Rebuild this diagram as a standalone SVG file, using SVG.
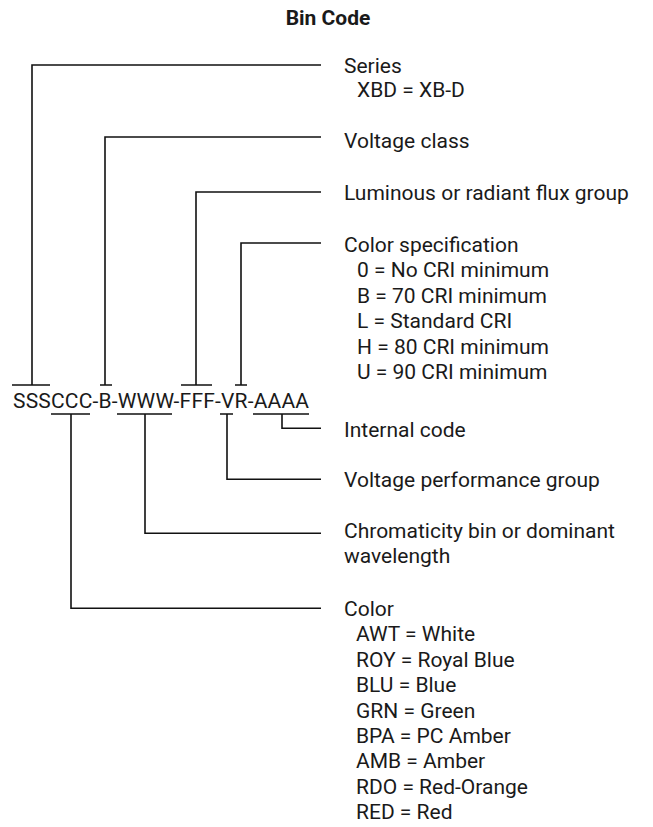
<svg xmlns="http://www.w3.org/2000/svg" width="653" height="827" viewBox="0 0 653 827">
<style>
.t{font-family:Roboto,"Liberation Sans",sans-serif;font-size:21px;fill:#1a1a1a}
.b{font-weight:bold}
.c{fill:none;stroke:#111;stroke-width:1.6}
</style>
<rect width="653" height="827" fill="#fff"/>
<text class="t b" x="328" y="25" text-anchor="middle">Bin Code</text>
<text class="t" x="13" y="407.7" textLength="296" lengthAdjust="spacing">SSSCCC-B-WWW-FFF-VR-AAAA</text>
<g id="connectors">
<path class="c" d="M12,385H50M32,385V65H321"/>
<path class="c" d="M100,385H112M105,385V137H321"/>
<path class="c" d="M181,385H212M196,385V192H321"/>
<path class="c" d="M235,385H247M241,385V243H321"/>
<path class="c" d="M253,414H309M282,414V428.3H321"/>
<path class="c" d="M220,414H233M227,414V479.3H321"/>
<path class="c" d="M117,414H172M145,414V533.3H321"/>
<path class="c" d="M51,414H90M71,414V608.3H321"/>
</g>
<g id="series"><text class="t" x="344" y="72.7">Series</text><text class="t" x="357" y="96.7">XBD = XB-D</text></g>
<g id="voltage-class"><text class="t" x="344" y="148">Voltage class</text></g>
<g id="flux"><text class="t" x="344" y="200">Luminous or radiant flux group</text></g>
<g id="color-spec"><text class="t" x="344" y="252">Color specification</text>
<text class="t" x="357" y="277.4">0 = No CRI minimum</text>
<text class="t" x="357" y="302.8">B = 70 CRI minimum</text>
<text class="t" x="357" y="328.2">L = Standard CRI</text>
<text class="t" x="357" y="353.6">H = 80 CRI minimum</text>
<text class="t" x="357" y="379">U = 90 CRI minimum</text></g>
<g id="internal-code"><text class="t" x="344" y="436.7">Internal code</text></g>
<g id="voltage-perf"><text class="t" x="344" y="487">Voltage performance group</text></g>
<g id="chromaticity"><text class="t" x="344" y="538">Chromaticity bin or dominant</text><text class="t" x="344" y="563">wavelength</text></g>
<g id="color"><text class="t" x="344" y="616">Color</text>
<text class="t" x="356" y="641.4">AWT = White</text>
<text class="t" x="356" y="666.8">ROY = Royal Blue</text>
<text class="t" x="356" y="692.2">BLU = Blue</text>
<text class="t" x="356" y="717.6">GRN = Green</text>
<text class="t" x="356" y="743">BPA = PC Amber</text>
<text class="t" x="356" y="768.4">AMB = Amber</text>
<text class="t" x="356" y="793.8">RDO = Red-Orange</text>
<text class="t" x="356" y="819.2">RED = Red</text></g>
</svg>
